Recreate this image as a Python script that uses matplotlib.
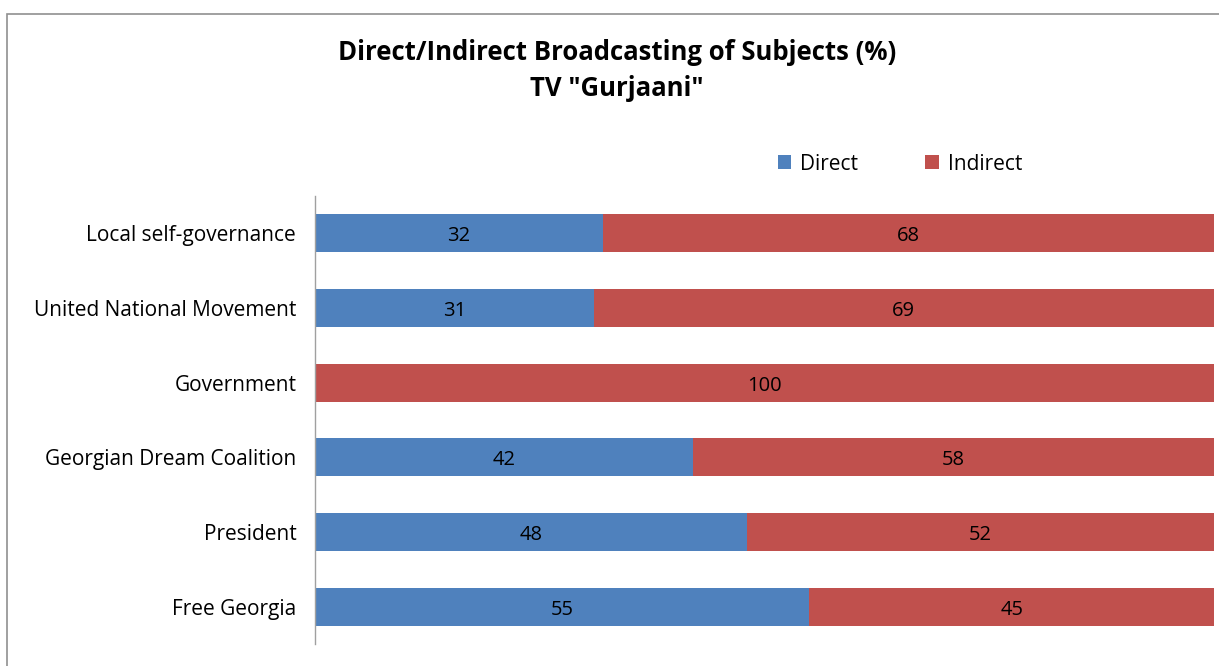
import matplotlib
matplotlib.use("Agg")
import matplotlib.pyplot as plt
from matplotlib.patches import Rectangle

categories = ["Local self-governance", "United National Movement", "Government",
              "Georgian Dream Coalition", "President", "Free Georgia"]
direct = [32, 31, 0, 42, 48, 55]
indirect = [68, 69, 100, 58, 52, 45]

plt.rcParams['font.family'] = ['Open Sans', 'DejaVu Sans']

W, H = 1219, 666
fig = plt.figure(figsize=(W/100, H/100), dpi=100)
ax = fig.add_axes([315/W, 1-644/H, (1214-315)/W, (644-196)/H])

blue = '#4F81BD'
red = '#C0504D'
y = list(range(len(categories)))
ax.barh(y, direct, height=0.51, color=blue, label='Direct')
ax.barh(y, indirect, left=direct, height=0.51, color=red, label='Indirect')

for i in range(len(categories)):
    if direct[i] > 0:
        ax.text(direct[i]/2, i + 0.04, str(direct[i]), ha='center', va='center', fontsize=14.5, color='black')
    if indirect[i] > 0:
        ax.text(direct[i] + indirect[i]/2, i + 0.04, str(indirect[i]), ha='center', va='center', fontsize=14.5, color='black')

ax.set_xlim(0, 100)
ax.set_ylim(len(categories)-0.5, -0.5)
ax.set_yticks(y)
ax.set_yticklabels(categories, fontsize=15)
ax.tick_params(axis='y', length=0, pad=13.5)
ax.set_xticks([])
for s in ['top', 'right', 'bottom']:
    ax.spines[s].set_visible(False)
ax.spines['left'].set_color('#A0A0A0')
ax.spines['left'].set_linewidth(1)

fig.text(617/W, 1-52/H, 'Direct/Indirect Broadcasting of Subjects (%)', ha='center', va='center',
         fontsize=18.5, fontweight='bold')
fig.text(617/W, 1-88/H, 'TV "Gurjaani"', ha='center', va='center', fontsize=18.5, fontweight='bold')

leg = fig.legend(loc='center', bbox_to_anchor=(900/W, 1-164/H), ncol=2, frameon=False,
                 fontsize=15, handlelength=0.65, handleheight=0.65, columnspacing=3.2, handletextpad=0.45)

fig.patches.append(Rectangle((7/W, -0.1), 1.2, 1-14/H+0.1, transform=fig.transFigure,
                             fill=False, edgecolor='#909090', linewidth=1.2))

fig.savefig('out.png', dpi=100)
